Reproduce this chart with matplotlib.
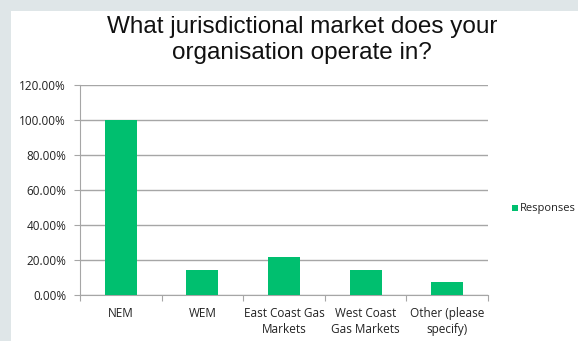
import matplotlib.pyplot as plt
from matplotlib.patches import Rectangle
from matplotlib.ticker import PercentFormatter

# survey results: share of respondents per market
markets = ['NEM', 'WEM', 'East Coast Gas\nMarkets', 'West Coast\nGas Markets', 'Other (please\nspecify)']
responses = [1.0, 2 / 14, 3 / 14, 2 / 14, 1 / 14]
series_name = 'Responses'

green = '#00bf6f'
label_font = 'Open Sans'
label_size = 8.5

fig = plt.figure(figsize=(5.78, 3.41), dpi=100)
fig.patch.set_facecolor('#dfe6e8')
fig.patches.append(Rectangle((11 / 578, 0), 1, 1 - 11 / 341, transform=fig.transFigure,
                             facecolor='white', edgecolor='none', zorder=-10))

ax = fig.add_axes([80 / 578, 46.5 / 341, 408 / 578, 209.5 / 341])
ax.set_facecolor('none')
x = list(range(len(markets)))
ax.bar(x, responses, width=0.39, color=green, zorder=3, label=series_name)

ax.set_xlim(-0.5, len(markets) - 0.5)
ax.set_ylim(0, 1.2)
ax.set_yticks([0, 0.2, 0.4, 0.6, 0.8, 1.0, 1.2])
ax.yaxis.set_major_formatter(PercentFormatter(1.0, decimals=2))
ax.grid(axis='y', color='#a6a6a6', linewidth=1, zorder=1)

ax.set_xticks([i - 0.5 for i in range(len(markets) + 1)], minor=False)
ax.set_xticklabels([])
ax.set_xticks(x, minor=True)
ax.set_xticklabels(markets, minor=True, fontsize=label_size, family=label_font,
                   color='#222222', linespacing=1.3)
ax.tick_params(axis='x', which='minor', length=0, pad=9)
ax.tick_params(axis='x', which='major', length=4, color='#a6a6a6', direction='out')
ax.tick_params(axis='y', length=4, color='#a6a6a6', labelsize=label_size,
               labelcolor='#222222', pad=6)
for lbl in ax.get_yticklabels():
    lbl.set_family(label_font)

for side in ['top', 'right']:
    ax.spines[side].set_visible(False)
ax.spines['left'].set_color('#a6a6a6')
ax.spines['bottom'].set_color('#a6a6a6')

fig.text(302 / 578, 1 - 40 / 341, 'What jurisdictional market does your\norganisation operate in?',
         ha='center', va='center', fontsize=17.5, family='Liberation Sans',
         color='#111111', linespacing=1.28)

# legend entry sits against the right edge
fig.patches.append(Rectangle((512 / 578, 1 - 211 / 341), 6 / 578, 6 / 341,
                             transform=fig.transFigure, facecolor=green, edgecolor='none'))
fig.text(520 / 578, 1 - 208 / 341, series_name, ha='left', va='center',
         fontsize=8, family=label_font, color='#222222')

fig.savefig('out.png', dpi=100)
